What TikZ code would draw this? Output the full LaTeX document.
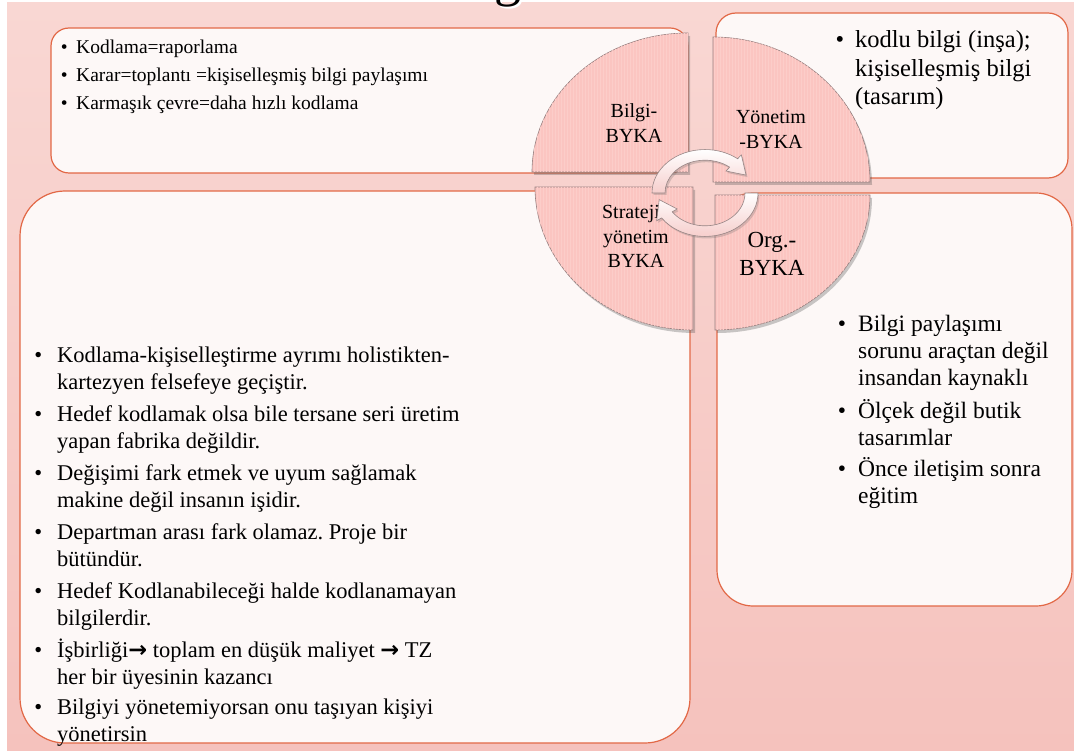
\documentclass[tikz,border=0pt]{standalone}
\usepackage{fontspec}
\setmainfont{Liberation Serif}
\newfontfamily\symfont{DejaVu Sans}
\usetikzlibrary{shadows,patterns}

\definecolor{bgtop}{RGB}{249,215,211}
\definecolor{bgbot}{RGB}{245,194,189}
\definecolor{boxfill}{RGB}{253,248,247}
\definecolor{boxline}{RGB}{226,104,70}
\definecolor{petalfill}{RGB}{251,197,193}
\definecolor{petalstripe}{RGB}{252,205,201}
\definecolor{petalline}{RGB}{150,128,128}
\definecolor{arrowpink}{RGB}{246,206,204}
\definecolor{arrowline}{RGB}{150,132,132}

% bullet hanging to the left of the first line
\newcommand\itembul[1]{\llap{\textbullet\hspace{#1}}}
\newcommand\rarr{{\symfont\bfseries →}}

\begin{document}
\frenchspacing
\begin{tikzpicture}[x=1pt,y=-1pt,
  panel/.style={draw=boxline, line width=1.2pt, fill=boxfill},
  petal/.style={fill=petalfill, draw=petalline, line width=0.6pt,
    drop shadow={shadow xshift=2pt, shadow yshift=-3pt, opacity=0.3, fill=black!70},
    postaction={pattern=vertical lines, pattern color=petalstripe}},
  cyclearrow/.style={top color=white, bottom color=arrowpink, draw=arrowline,
    line width=0.6pt,
    drop shadow={shadow xshift=1.5pt, shadow yshift=-2pt, opacity=0.25, fill=black!60}},
  % multi-line nodes are placed by the baseline of their last line
  smalltxt/.style={anchor=base west, inner sep=0pt, align=left,
    font=\fontsize{19.5}{28}\selectfont},
  bigtxt/.style={anchor=base west, inner sep=0pt, align=left,
    font=\fontsize{22.5}{27}\selectfont},
  sidetxt/.style={anchor=base west, inner sep=0pt, align=left,
    font=\fontsize{23.5}{27}\selectfont},
  headtxt/.style={anchor=base west, inner sep=0pt, align=left,
    font=\fontsize{24.5}{28.5}\selectfont},
  petallabel/.style={anchor=base, inner sep=0pt, align=center,
    font=\fontsize{20}{24.5}\selectfont}]

\useasboundingbox (0,0) rectangle (1074,751);
\fill[white] (0,0) rectangle (1074,751);
\shade[top color=bgtop, bottom color=bgbot] (7,3) rectangle (1074,751);

% cut-off title glyph
\node[font=\fontsize{54}{54}\selectfont, anchor=base, inner sep=0pt, text=white] (ttlshadow) at (509.5,-2.5) {g};
\node[font=\fontsize{54}{54}\selectfont, anchor=base, inner sep=0pt] (ttl) at (508,-4) {g};

% text panels
\draw[panel, rounded corners=18pt] (51,28) rectangle (688,173);
\draw[panel, rounded corners=20pt] (716,13) rectangle (1068,178);
\draw[panel, rounded corners=45pt] (20,191) rectangle (690,743);
\draw[panel, rounded corners=36pt] (717,193) rectangle (1072,606);

% four quarters of the central disc
\path[petal] (688,172) -- ++(-156,0) arc[start angle=180, end angle=270, x radius=156, y radius=139] -- cycle;
\path[petal] (713,182) -- ++(0,-145) arc[start angle=270, end angle=360, x radius=157, y radius=145] -- cycle;
\path[petal] (693,187) -- ++(-158,0) arc[start angle=180, end angle=90, x radius=158, y radius=143] -- cycle;
\path[petal] (715,195) -- ++(155,0) arc[start angle=0, end angle=90, x radius=155, y radius=135] -- cycle;

% quarter labels
\node[petallabel] (qbilgi) at (634,142.5) {Bilgi-\\BYKA};
\node[petallabel] (qyon) at (771,148.5) {Yönetim\\-BYKA};
\node[petallabel] (qstr) at (636,268) {Stratejik\\yönetim\\BYKA};
\node[petallabel, font=\fontsize{23}{28}\selectfont] (qorg) at (772,276) {Org.-\\BYKA};

% circular arrows around the centre
\begin{scope}[shift={(705,193)}, yscale=0.82]
  \path[cyclearrow] (180:53) arc[start angle=180, end angle=308, radius=53]
    -- (308:59) -- (332:46.5) -- (308:34) -- (308:40)
    arc[start angle=308, end angle=180, radius=40] -- cycle;
  \path[cyclearrow] (0:53) arc[start angle=0, end angle=145, radius=53]
    -- (145:59) -- (170:46.5) -- (145:34) -- (145:40)
    arc[start angle=145, end angle=0, radius=40] -- cycle;
\end{scope}

% top-left panel
\node[smalltxt] (a1) at (76,54) {\itembul{8.5pt}Kodlama=raporlama};
\node[smalltxt] (a2) at (76,82) {\itembul{8.5pt}Karar=toplantı =kişiselleşmiş bilgi paylaşımı};
\node[smalltxt] (a3) at (76,110) {\itembul{8.5pt}Karmaşık çevre=daha hızlı kodlama};

% top-right panel
\node[headtxt] (b1) at (855,105) {\itembul{11pt}kodlu bilgi (inşa);\\kişiselleşmiş bilgi\\(tasarım)};

% large left panel
\node[bigtxt] (c1) at (57,389) {\itembul{15pt}Kodlama-kişiselleştirme ayrımı holistikten-\\kartezyen felsefeye geçiştir.};
\node[bigtxt] (c2) at (57,448) {\itembul{15pt}Hedef kodlamak olsa bile tersane seri üretim\\yapan fabrika değildir.};
\node[bigtxt] (c3) at (57,507) {\itembul{15pt}Değişimi fark etmek ve uyum sağlamak\\makine değil insanın işidir.};
\node[bigtxt] (c4) at (57,566) {\itembul{15pt}Departman arası fark olamaz. Proje bir\\bütündür.};
\node[bigtxt] (c5) at (57,625) {\itembul{15pt}Hedef Kodlanabileceği halde kodlanamayan\\bilgilerdir.};
\node[bigtxt] (c6) at (57,684) {\itembul{15pt}İşbirliği\rarr{} toplam en düşük maliyet \rarr{} TZ\\her bir üyesinin kazancı};
\node[bigtxt] (c7) at (57,741) {\itembul{15pt}Bilgiyi yönetemiyorsan onu taşıyan kişiyi\\yönetirsin};

% lower-right panel
\node[sidetxt] (d1) at (858,385) {\itembul{12pt}Bilgi paylaşımı\\sorunu araçtan değil\\insandan kaynaklı};
\node[sidetxt] (d2) at (858,445) {\itembul{12pt}Ölçek değil butik\\tasarımlar};
\node[sidetxt] (d3) at (858,503) {\itembul{12pt}Önce iletişim sonra\\eğitim};

\end{tikzpicture}
\end{document}
